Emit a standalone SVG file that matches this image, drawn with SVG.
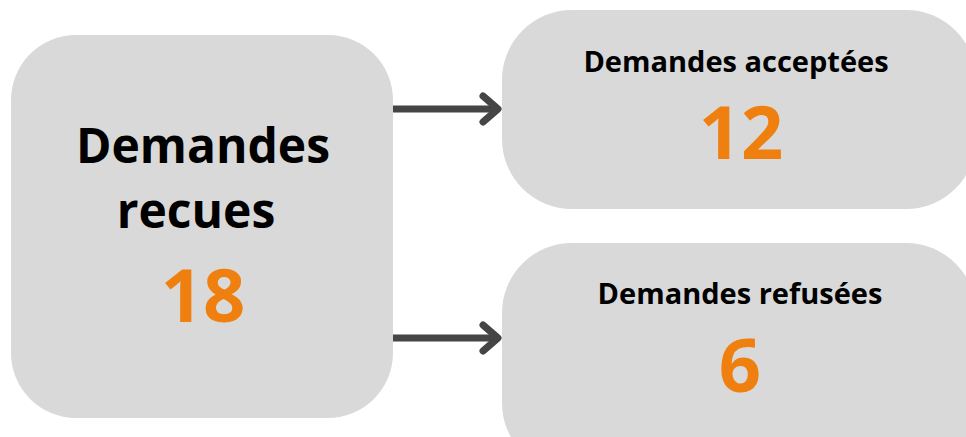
<svg xmlns="http://www.w3.org/2000/svg" width="966" height="437" viewBox="0 0 966 437">
<style>
.box{fill:#d9d9d9}
.lbl{font-family:"Open Sans","Noto Sans",sans-serif;font-weight:700;fill:#000;text-anchor:middle}
.num{font-family:"Open Sans","Noto Sans",sans-serif;font-weight:700;fill:#ef800f;text-anchor:middle}
.line{stroke:#454545;stroke-width:7;fill:none;stroke-linecap:butt}
.head{stroke:#454545;stroke-width:7;fill:none;stroke-linecap:round;stroke-linejoin:round}
</style>
<rect width="966" height="437" fill="#fff"/>
<g id="node-recues">
<rect class="box" x="11" y="35" width="382" height="383" rx="65"/>
<text class="lbl" x="203" y="163" font-size="48">Demandes</text>
<text class="lbl" x="196" y="228" font-size="48">recues</text>
<text class="num" x="203" y="322" font-size="74">18</text>
</g>
<g id="node-acceptees">
<rect class="box" x="502" y="10" width="474" height="199" rx="70"/>
<text class="lbl" x="736" y="72" font-size="29">Demandes acceptées</text>
<text class="num" x="741" y="159" font-size="74">12</text>
</g>
<g id="node-refusees">
<rect class="box" x="502" y="243" width="474" height="230" rx="70"/>
<text class="lbl" x="740" y="304" font-size="29">Demandes refusées</text>
<text class="num" x="740" y="392" font-size="74">6</text>
</g>
<g id="connectors">
<path class="line" d="M393 109 H498"/>
<path class="head" d="M483 96 L498 109 L483 122"/>
<path class="line" d="M393 338 H498"/>
<path class="head" d="M483 325 L498 338 L483 351"/>
</g>
</svg>
